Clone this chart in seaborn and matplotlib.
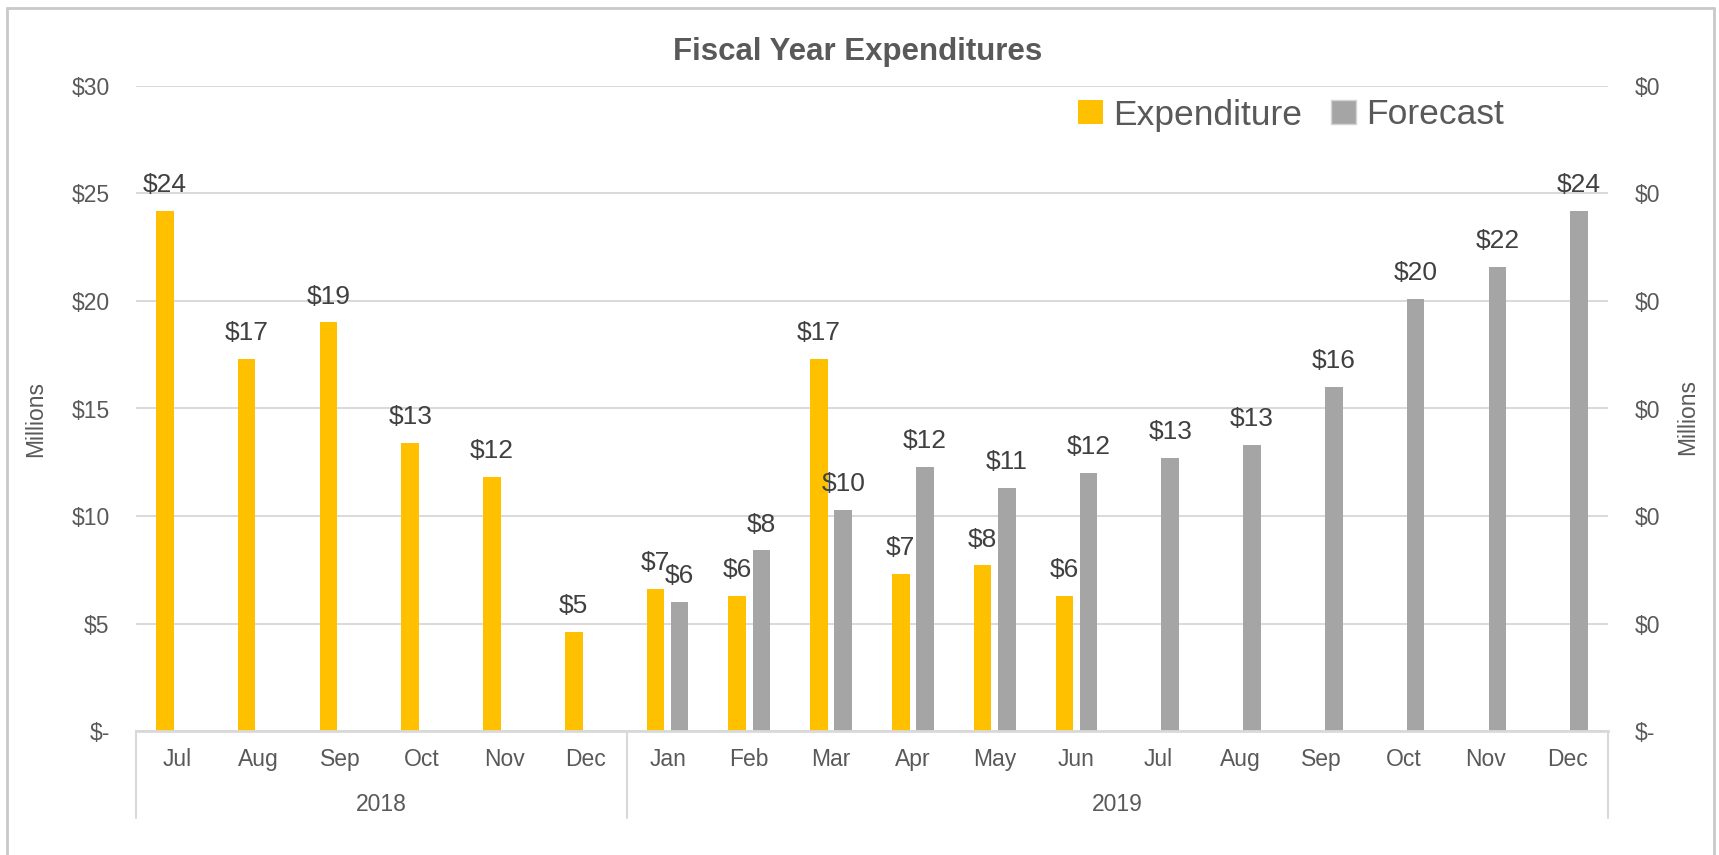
import numpy as np
import pandas as pd
import matplotlib
matplotlib.use("Agg")
import matplotlib.pyplot as plt
import matplotlib.transforms as mtransforms
from matplotlib.lines import Line2D
from matplotlib.patches import Patch
import seaborn as sns

# ---------------- data ----------------
months = ["Jul", "Aug", "Sep", "Oct", "Nov", "Dec",
          "Jan", "Feb", "Mar", "Apr", "May", "Jun",
          "Jul", "Aug", "Sep", "Oct", "Nov", "Dec"]
years = ["2018"] * 6 + ["2019"] * 12
year_labels = ["2018", "2019"]
expenditure = [24.2, 17.3, 19.0, 13.4, 11.8, 4.6,
               6.6, 6.3, 17.3, 7.3, 7.7, 6.3,
               None, None, None, None, None, None]
forecast = [None, None, None, None, None, None,
            6.0, 8.4, 10.3, 12.3, 11.3, 12.0,
            12.7, 13.3, 16.0, 20.1, 21.6, 24.2]
series_names = ["Expenditure", "Forecast"]
left_tick_values = [0, 5, 10, 15, 20, 25, 30]
left_tick_labels = ["$-", "$5", "$10", "$15", "$20", "$25", "$30"]
right_tick_labels = ["$-", "$0", "$0", "$0", "$0", "$0", "$0"]
title = "Fiscal Year Expenditures"
axis_label = "Millions"

# ---------------- style ----------------
sns.set_style("white")
plt.rcParams["font.family"] = ["Liberation Sans", "DejaVu Sans"]
TXT = "#595959"
LBL = "#404040"
GRID = "#D9D9D9"
colors = {"Expenditure": "#FFC000", "Forecast": "#A5A5A5"}

keys = [f"{y}-{m}" for y, m in zip(years, months)]
rows = []
for k, e, f in zip(keys, expenditure, forecast):
    rows.append({"key": k, "series": "Expenditure", "value": np.nan if e is None else e})
    rows.append({"key": k, "series": "Forecast", "value": np.nan if f is None else f})
df = pd.DataFrame(rows)

W, H = 1719, 855
fig = plt.figure(figsize=(W / 100, H / 100), dpi=100)
ax_l, ax_r, ax_b, ax_t = 136, 1608, 731, 86
ax = fig.add_axes([ax_l / W, 1 - ax_b / H, (ax_r - ax_l) / W, (ax_b - ax_t) / H])

sns.barplot(data=df, x="key", y="value", hue="series", order=keys,
            hue_order=series_names, palette=colors, width=0.59, gap=0.27,
            saturation=1, legend=False, ax=ax, errorbar=None)

for c in ax.containers:
    lab = c.get_label()
    if lab == "Forecast":
        for p in c:
            p.set_edgecolor("#D4D4D4")
            p.set_linewidth(1.5)
    else:
        for p in c:
            p.set_edgecolor("none")
    ax.bar_label(c, fmt=lambda v: "" if np.isnan(v) else f"${v:.0f}",
                 padding=10, fontsize=19, color=LBL)

ax.set_xlim(-0.5, len(keys) - 0.5)
ax.set_ylim(0, 30)
ax.set_yticks(left_tick_values)
ax.set_yticklabels(left_tick_labels)
ax.set_xticks(range(len(keys)))
ax.set_xticklabels(months)
ax.set_xlabel("")
ax.set_ylabel(axis_label, fontsize=16.5, color=TXT)
ax.yaxis.set_label_coords(-0.0605, 0.483)
ax.tick_params(axis="y", length=0, pad=19, labelsize=16.5, labelcolor=TXT)
ax.tick_params(axis="x", length=0, pad=12, labelsize=16.5, labelcolor=TXT)
ax.yaxis.grid(True, color=GRID, linewidth=1.4)
ax.xaxis.grid(False)
ax.set_axisbelow(True)
for s in ["left", "right", "top"]:
    ax.spines[s].set_visible(False)
ax.spines["bottom"].set_color(GRID)
ax.spines["bottom"].set_linewidth(2)

ax2 = ax.twinx()
ax2.set_ylim(ax.get_ylim())
ax2.set_yticks(left_tick_values)
ax2.set_yticklabels(right_tick_labels)
ax2.tick_params(axis="y", length=0, pad=19, labelsize=16.5, labelcolor=TXT)
ax2.set_ylabel(axis_label, fontsize=16.5, color=TXT, rotation=90)
ax2.yaxis.set_label_coords(1.0462, 0.487)
for s in ax2.spines.values():
    s.set_visible(False)
ax2.grid(False)

# category-group box below the axis
trans = mtransforms.blended_transform_factory(ax.transData, ax.transAxes)
box_bottom = (ax_b - 818) / (ax_b - ax_t)
year_y = (ax_b - 804) / (ax_b - ax_t)
n2018 = years.count("2018")
for xb in [-0.5, n2018 - 0.5, len(keys) - 0.5]:
    ax.add_line(Line2D([xb, xb], [0, box_bottom], transform=trans,
                       color=GRID, linewidth=1.5, clip_on=False))
ax.text((n2018 - 1) / 2, year_y, year_labels[0], transform=trans,
        ha="center", va="center", fontsize=16.5, color=TXT)
ax.text((n2018 + len(keys) - 1) / 2, year_y, year_labels[1], transform=trans,
        ha="center", va="center", fontsize=16.5, color=TXT)

# legend
handles = [Patch(facecolor=colors[s], edgecolor=("#D4D4D4" if s == "Forecast" else "none"))
           for s in series_names]
fig.legend(handles, series_names, loc="center", bbox_to_anchor=(1291 / W, 1 - 115 / H),
           ncol=2, frameon=False, fontsize=25.5, labelcolor=TXT,
           handlelength=0.7, handleheight=0.7, handletextpad=0.3, columnspacing=0.8)

# title
fig.text(858 / W, 1 - 52 / H, title, ha="center", va="center", fontsize=22.5,
         fontweight="bold", color=TXT)

# chart border
bc = "#C9C9C9"
fig.add_artist(Line2D([7 / W, 7 / W], [0, 1 - 8 / H], transform=fig.transFigure, color=bc, lw=2))
fig.add_artist(Line2D([7 / W, 1714 / W], [1 - 8 / H, 1 - 8 / H], transform=fig.transFigure, color=bc, lw=2))
fig.add_artist(Line2D([1714 / W, 1714 / W], [0, 1 - 8 / H], transform=fig.transFigure, color=bc, lw=2))

fig.savefig("out.png", dpi=100)
